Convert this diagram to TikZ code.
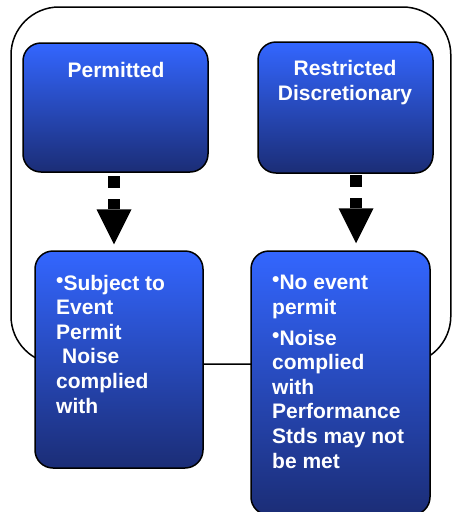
\documentclass[tikz,border=0pt]{standalone}
\usepackage{fontspec}
\setmainfont{Liberation Sans}
\usetikzlibrary{arrows.meta,calc}
\definecolor{btop}{RGB}{51,102,255}
\definecolor{bmid}{RGB}{42,80,205}
\definecolor{bbot}{RGB}{27,45,118}
\begin{document}
\begin{tikzpicture}[x=1pt,y=-1pt,
  box/.style={draw=black,line width=1.5pt,rounded corners=18pt,
    top color=btop,middle color=bmid,bottom color=bbot,inner sep=0pt},
  lbl/.style={text=white,font=\fontsize{21}{24.6}\selectfont\bfseries,inner sep=0pt},
  flow/.style={line width=12pt,dash pattern=on 12pt off 11pt on 80pt,
    -{Triangle[width=35pt,length=35pt,line width=0pt]}},
  frame/.style={draw=black,line width=1.5pt,rounded corners=48pt}]
\useasboundingbox (0,0) rectangle (452,512);
% outer frame
\draw[frame] (11,7) rectangle (450.8,364);
% boxes
\node[box,minimum width=185,minimum height=129] (p) at (115.5,107.5) {};
\node[box,minimum width=175,minimum height=131] (r) at (345.5,107.5) {};
\node[box,minimum width=168,minimum height=217] (s) at (119,359.5) {};
\node[box,minimum width=179,minimum height=264] (n) at (340.5,383) {};
% texts (base anchor = baseline of last line)
\node[lbl,anchor=base] (pt) at (116,77) {Permitted};
\node[lbl,anchor=base,align=center] (rt) at (345,100) {Restricted\\Discretionary};
\node[lbl,anchor=base west,align=left] (st) at (56,413)
  {\raisebox{3pt}{•}Subject to\\Event\\Permit\\\hspace*{6pt}Noise\\complied\\with};
\node[lbl,anchor=base west,align=left] (nt) at (272,468)
  {\raisebox{3pt}{•}No event\\permit\\[6pt]\raisebox{3pt}{•}Noise\\complied\\with\\Performance\\Stds may not\\be met};
% arrows
\coordinate (a1) at ([xshift=-1.5pt,yshift=-3.5pt]p.south);
\draw[flow] (a1) -- ([yshift=6pt]a1 |- s.north);
\coordinate (a2) at ([xshift=10.5pt,yshift=-1.5pt]r.south);
\draw[flow] (a2) -- ([yshift=7pt]a2 |- n.north);
\end{tikzpicture}
\end{document}
